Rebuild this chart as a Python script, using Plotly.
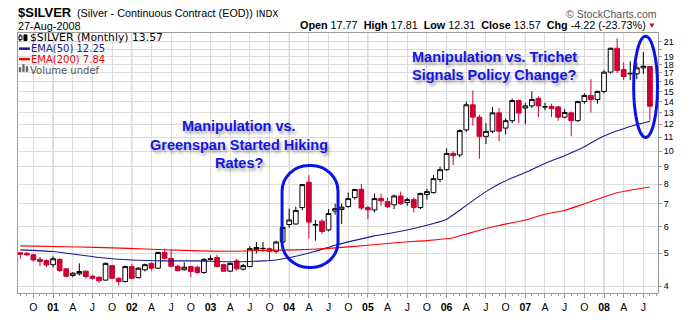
import math
import plotly.graph_objects as go

# ---------------- data ----------------
months = (["2000-%02d" % m for m in range(8, 13)] +
          ["%d-%02d" % (y, m) for y in range(2001, 2008) for m in range(1, 13)] +
          ["2008-%02d" % m for m in range(1, 9)])

open_ = [5.02, 5.00, 4.95, 4.80, 4.76,
         4.63, 4.80, 4.50, 4.30, 4.35, 4.43, 4.28, 4.25, 4.17, 4.60, 4.22, 4.13,
         4.57, 4.24, 4.47, 4.67, 4.52, 5.03, 4.83, 4.58, 4.47, 4.57, 4.55, 4.39,
         4.80, 4.86, 4.63, 4.43, 4.75, 4.49, 4.57, 5.12, 5.16, 5.16, 5.07, 5.40,
         6.08, 6.10, 6.82, 8.10, 6.05, 6.22, 5.86, 6.66, 6.73, 6.87, 7.30, 7.72,
         6.82, 6.71, 7.25, 7.10, 6.95, 7.38, 7.06, 7.20, 6.82, 7.45, 7.55, 8.26,
         8.82, 9.85, 9.75, 11.55, 13.70, 12.60, 11.06, 11.45, 12.97, 11.70, 12.30, 14.10,
         13.40, 13.60, 14.30, 13.50, 13.55, 13.50, 12.60, 12.97, 12.30, 14.00, 14.60, 14.20,
         15.00, 17.10, 20.10, 17.40, 16.90, 16.90, 17.60, 17.77]
high = [5.03, 5.05, 4.98, 4.88, 4.80,
        4.90, 4.83, 4.52, 4.40, 4.67, 4.45, 4.32, 4.28, 4.70, 4.62, 4.25, 4.60,
        4.65, 4.55, 4.66, 4.70, 5.05, 5.16, 5.13, 4.62, 4.70, 4.58, 4.60, 4.83,
        4.93, 4.95, 4.66, 4.70, 4.82, 4.65, 5.25, 5.40, 5.40, 5.20, 5.45, 6.00,
        6.77, 6.86, 8.00, 8.50, 6.27, 6.30, 6.75, 7.00, 7.00, 7.55, 7.75, 8.00,
        6.90, 7.50, 7.50, 7.30, 7.45, 7.60, 7.30, 7.30, 7.55, 7.75, 8.50, 9.00,
        10.20, 10.00, 11.60, 14.00, 15.10, 12.80, 12.10, 13.50, 13.40, 12.50, 14.30, 14.20,
        13.90, 15.00, 14.50, 13.90, 13.80, 13.60, 13.30, 13.10, 14.10, 14.80, 16.30, 15.10,
        17.30, 20.20, 21.50, 18.30, 18.40, 18.20, 19.60, 17.81]
low = [4.82, 4.90, 4.72, 4.58, 4.55,
       4.55, 4.40, 4.25, 4.25, 4.30, 4.22, 4.18, 4.10, 4.15, 4.20, 4.02, 4.10,
       4.20, 4.22, 4.42, 4.45, 4.50, 4.80, 4.55, 4.42, 4.45, 4.25, 4.35, 4.35,
       4.75, 4.55, 4.40, 4.40, 4.45, 4.45, 4.55, 5.00, 5.05, 4.75, 5.00, 5.35,
       5.95, 6.08, 6.70, 5.53, 5.45, 5.70, 5.80, 6.50, 6.10, 6.80, 7.20, 6.70,
       6.30, 6.60, 6.90, 6.80, 6.75, 6.95, 6.90, 6.60, 6.75, 7.20, 7.50, 8.10,
       8.75, 9.10, 9.60, 11.40, 11.90, 9.50, 10.50, 11.30, 10.70, 11.20, 12.10, 12.10,
       12.00, 13.40, 12.60, 13.20, 12.60, 12.30, 12.50, 11.06, 12.20, 13.80, 13.00, 13.80,
       14.80, 16.90, 17.00, 16.20, 16.20, 16.30, 16.90, 12.31]
close = [4.97, 4.95, 4.78, 4.73, 4.62,
         4.82, 4.45, 4.28, 4.37, 4.42, 4.27, 4.22, 4.15, 4.67, 4.22, 4.13, 4.57,
         4.22, 4.52, 4.63, 4.52, 5.03, 4.83, 4.58, 4.45, 4.55, 4.42, 4.39, 4.80,
         4.82, 4.57, 4.43, 4.67, 4.50, 4.60, 5.16, 5.20, 5.17, 5.06, 5.40, 5.96,
         6.27, 6.69, 7.97, 6.18, 6.08, 5.80, 6.55, 6.77, 6.84, 7.25, 7.71, 6.80,
         6.72, 7.25, 7.14, 6.86, 7.38, 7.00, 7.20, 6.82, 7.50, 7.60, 8.30, 8.82,
         9.85, 9.70, 11.50, 13.70, 12.60, 11.06, 11.44, 12.97, 11.45, 12.30, 14.10, 12.95,
         13.60, 14.20, 13.60, 13.52, 13.35, 12.60, 13.00, 12.30, 14.00, 14.60, 14.20, 15.00,
         17.10, 20.10, 17.30, 16.60, 16.95, 17.60, 17.79, 13.57]

ema50_months = ["2000-08", "2001-01", "2001-08", "2002-01", "2002-06", "2002-11",
                "2003-04", "2003-09", "2003-11", "2004-02", "2004-05", "2004-08",
                "2004-11", "2005-02", "2005-05", "2005-08", "2005-11", "2006-01",
                "2006-03", "2006-05", "2006-07", "2006-09", "2006-11", "2007-01",
                "2007-04", "2007-07", "2007-10", "2007-12", "2008-02", "2008-04",
                "2008-06", "2008-08"]
ema50 = [5.12, 5.06, 4.86, 4.78, 4.75, 4.75, 4.72, 4.75, 4.78, 4.90, 5.07, 5.28,
         5.46, 5.63, 5.76, 5.92, 6.12, 6.30, 6.70, 7.15, 7.60, 8.00, 8.35, 8.65,
         9.20, 9.70, 10.30, 10.85, 11.30, 11.65, 11.98, 12.25]

ema200_months = ["2000-08", "2001-05", "2001-10", "2002-03", "2002-09", "2003-04",
                 "2003-09", "2004-02", "2004-07", "2005-01", "2005-06", "2005-10",
                 "2006-02", "2006-04", "2006-07", "2006-09", "2007-01", "2007-04",
                 "2007-07", "2007-10", "2008-03", "2008-08"]
ema200 = [5.26, 5.22, 5.19, 5.15, 5.10, 5.07, 5.10, 5.12, 5.17, 5.28, 5.39, 5.45,
          5.56, 5.70, 5.92, 6.04, 6.27, 6.52, 6.69, 7.00, 7.54, 7.84]

header_labels = ["Open", "High", "Low", "Close", "Chg"]
header_values = ["17.77", "17.81", "12.31", "13.57", "-4.22 (-23.73%)"]

price_ticks = [4, 5, 6, 7, 8, 9, 10, 11, 12, 13, 14, 15, 16, 17, 18, 19, 20, 21]
month_letters = {3: "A", 6: "J", 9: "O"}

# ---------------- helpers ----------------
def midx(s):
    y, m = s.split("-")
    return (int(y) - 2001) * 12 + int(m) - 1

x = [midx(s) for s in months]
x50 = [midx(s) for s in ema50_months]
x200 = [midx(s) for s in ema200_months]

# figure frame in pixels
W, H = 686, 325
L, R, T, B = 18, 24, 33, 18
PW, PH = W - L - R, H - T - B

def px(v):
    return (v - L) / PW

def py(v):
    return (H - B - v) / PH

RED = "#cc0033"
BLUE_TXT = "#1414e6"

fig = go.Figure()
fig.add_trace(go.Candlestick(
    x=x, open=open_, high=high, low=low, close=close,
    increasing=dict(line=dict(color="#000000", width=1), fillcolor="#ffffff"),
    decreasing=dict(line=dict(color=RED, width=1), fillcolor=RED),
    whiskerwidth=0, hoverinfo="skip"))
fig.add_trace(go.Scatter(x=x50, y=ema50, mode="lines",
                         line=dict(color="#1a1a8c", width=1.1, shape="spline", smoothing=0.5),
                         hoverinfo="skip"))
fig.add_trace(go.Scatter(x=x200, y=ema200, mode="lines",
                         line=dict(color="#ff0000", width=1.1, shape="spline", smoothing=0.5),
                         hoverinfo="skip"))

# ticks
tickvals = list(range(-3, 92, 3))
ticktext = []
for t in tickvals:
    m = t % 12
    if m == 0:
        ticktext.append("<b>%02d</b>" % ((2001 + t // 12) % 100))
    else:
        ticktext.append(month_letters[m])

shapes = []
# darker year grid lines
for t in range(0, 92, 12):
    shapes.append(dict(type="line", xref="x", yref="paper", x0=t, x1=t, y0=0, y1=1,
                       line=dict(color="#bdbdbd", width=1), layer="below"))

# ellipse 1 (rounded rectangle)
x0, x1, y0, y1, r = 283.7, 340.0, 172.7, 280.0, 27.0
k = 0.5523
def P(a, b):
    return "%.5f,%.5f" % (px(a), py(b))
path = ("M " + P(x0, y0 + r) +
        " C " + P(x0, y0 + r - k * r) + " " + P(x0 + r - k * r, y0) + " " + P(x0 + r, y0) +
        " L " + P(x1 - r, y0) +
        " C " + P(x1 - r + k * r, y0) + " " + P(x1, y0 + r - k * r) + " " + P(x1, y0 + r) +
        " L " + P(x1, y1 - r) +
        " C " + P(x1, y1 - r + k * r) + " " + P(x1 - r + k * r, y1) + " " + P(x1 - r, y1) +
        " L " + P(x0 + r, y1) +
        " C " + P(x0 + r - k * r, y1) + " " + P(x0, y1 - r + k * r) + " " + P(x0, y1 - r) + " Z")
shapes.append(dict(type="path", xref="paper", yref="paper", path=path,
                   line=dict(color="#0a14e6", width=3)))
# ellipse 2
shapes.append(dict(type="circle", xref="paper", yref="paper",
                   x0=px(637.5), x1=px(661.5), y0=py(143.0), y1=py(36.5),
                   line=dict(color="#0a14e6", width=3)))

# legend icons inside plot
shapes += [
    dict(type="line", xref="paper", yref="paper", x0=px(20), x1=px(20), y0=py(34), y1=py(42),
         line=dict(color="#000", width=1)),
    dict(type="rect", xref="paper", yref="paper", x0=px(19), x1=px(22), y0=py(40), y1=py(36),
         line=dict(color="#000", width=1), fillcolor="#fff"),
    dict(type="rect", xref="paper", yref="paper", x0=px(24), x1=px(27), y0=py(41), y1=py(35),
         line=dict(color="#000", width=1), fillcolor="#000"),
    dict(type="line", xref="paper", yref="paper", x0=px(19), x1=px(30), y0=py(49.5), y1=py(49.5),
         line=dict(color="#1a1a8c", width=2.5)),
    dict(type="line", xref="paper", yref="paper", x0=px(19), x1=px(30), y0=py(60.5), y1=py(60.5),
         line=dict(color="#ff0000", width=2.5)),
]
for bx, bh in [(20, 5), (23.5, 8), (27, 6)]:
    shapes.append(dict(type="rect", xref="paper", yref="paper", x0=px(bx - 1.2), x1=px(bx + 1.2),
                       y0=py(74), y1=py(74 - bh), line=dict(width=0), fillcolor="#666"))

ann = []
def text(s, xp, yp, size, color="#000", family="Liberation Sans", anchor="left", **kw):
    f = dict(size=size, color=color, family=family)
    f.update(kw.pop("font_extra", {}))
    ann.append(dict(text=s, xref="paper", yref="paper", x=px(xp), y=py(yp),
                    xanchor=anchor, yanchor="middle", showarrow=False, font=f,
                    borderpad=0, **kw))

# header
text("<b>$SILVER</b>", 17, 11.5, 13)
text("(Silver - Continuous Contract (EOD))", 76, 12, 10.8)
text("INDX", 256, 12.5, 9, family="DejaVu Sans")
text("27-Aug-2008", 17, 25.5, 10.8)
text("© StockCharts.com", 662, 12.5, 10.5, color="#555", anchor="right")
nb = "\u00a0\u00a0"
hdr = nb.join("<b>%s</b> %s" % (a, b) for a, b in zip(header_labels, header_values))
text(hdr, 651, 25, 10.8, anchor="right")
text("▼", 661, 25.5, 8, color=RED, anchor="right")

# legend lines
text("$SILVER (Monthly) %.2f" % close[-1], 29, 38, 10.8, family="DejaVu Sans")
text("EMA(50) %.2f" % ema50[-1], 30, 49.5, 10, color="#1a1a8c", family="DejaVu Sans")
text("EMA(200) %.2f" % ema200[-1], 30, 60.8, 10, color="#ee0000", family="DejaVu Sans")
text("Volume undef", 29, 72, 10, color="#555", family="DejaVu Sans")

# commentary
shadow = "2px 3px 3px rgba(0,0,0,0.35)"
for s, xx, yy in [("Manipulation vs.", 240, 131), ("Greenspan Started Hiking", 240, 151),
                  ("Rates?", 240, 170), ("Manipulation vs. Trichet", 497, 58),
                  ("Signals Policy Change?", 497, 77)]:
    text(s, xx, yy, 14.5, color=BLUE_TXT, anchor="center",
         font_extra=dict(weight="bold", shadow=shadow))

fig.update_layout(
    width=W, height=H, margin=dict(l=L, r=R, t=T, b=B),
    paper_bgcolor="#ffffff", plot_bgcolor="#ffffff",
    showlegend=False, hovermode=False,
    boxgap=0.1, boxgroupgap=0.2,
    shapes=shapes, annotations=ann,
    font=dict(family="Liberation Sans", color="#000"),
    xaxis=dict(range=[-5.35, 92.23], rangeslider=dict(visible=False),
               tickmode="array", tickvals=tickvals, ticktext=ticktext,
               tickfont=dict(size=10.5, family="Liberation Sans"),
               showgrid=True, gridcolor="#dcdcdc", gridwidth=1,
               ticks="outside", ticklen=4, tickcolor="#999",
               minor=dict(tickmode="linear", tick0=0, dtick=1, ticks="outside", ticklen=2,
                          tickcolor="#999", showgrid=False),
               showline=True, linecolor="#9a9a9a", mirror=True, zeroline=False),
    yaxis=dict(type="log", side="right",
               range=[math.log10(3.82), math.log10(22.3)],
               tickmode="array", tickvals=price_ticks,
               ticktext=["" if v == 20 else str(v) for v in price_ticks],
               tickfont=dict(size=9, family="Liberation Sans"),
               showgrid=True, gridcolor="#dcdcdc", gridwidth=1,
               ticks="outside", ticklen=3, tickcolor="#999",
               showline=True, linecolor="#9a9a9a", mirror=True, zeroline=False),
)

fig.write_html("out.html")
